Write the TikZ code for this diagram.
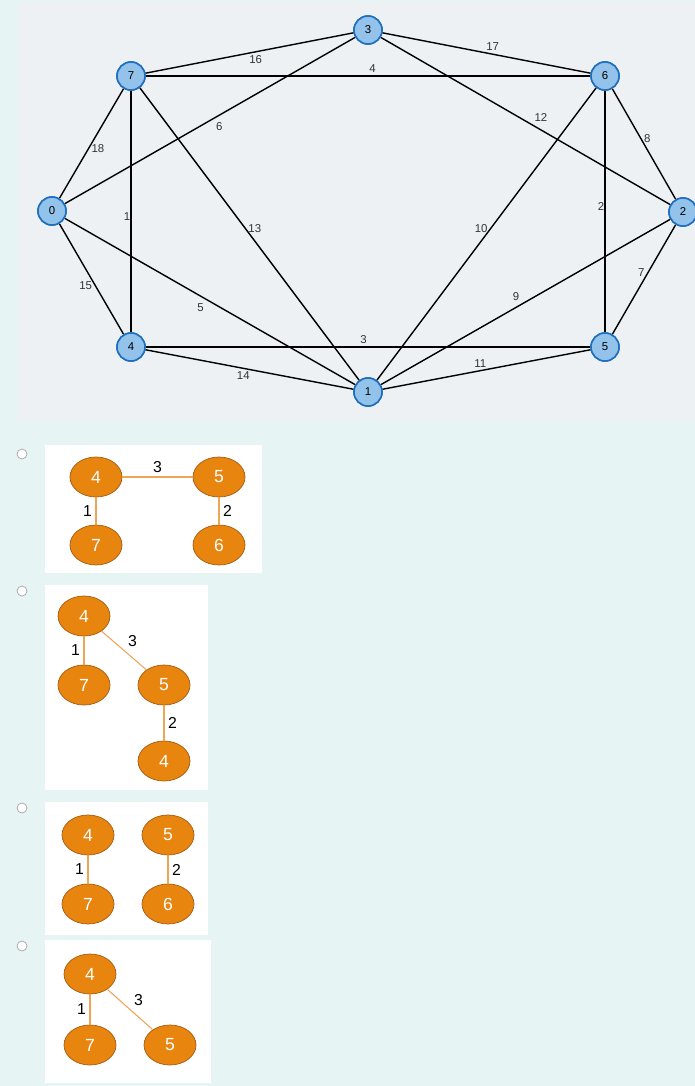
\documentclass[tikz,border=0pt]{standalone}
\usepackage{fontspec}
\setmainfont{Liberation Sans}
\usepackage[HTML]{xcolor}
\usetikzlibrary{positioning, shapes.geometric}
\definecolor{pagebg}{HTML}{E6F4F4}
\definecolor{panelbg}{HTML}{EDF1F4}
\definecolor{vfill}{HTML}{93C3EA}
\definecolor{vline}{HTML}{1E6FC0}
\definecolor{ofill}{HTML}{E8850F}
\definecolor{oline}{HTML}{A85A10}
\definecolor{oedge}{HTML}{F0A455}
\tikzset{
  vert/.style={circle, draw=vline, fill=vfill, line width=0.9pt, minimum size=0.56cm, inner sep=0pt, font=\fontsize{6.5}{7}\selectfont},
  gedge/.style={line width=0.8pt, black},
  lbl/.style={font=\fontsize{6.5}{7}\selectfont, inner sep=1.5pt, text=black!80},
  tree/.style={ellipse, draw=oline, fill=ofill, minimum width=1.04cm, minimum height=0.8cm, inner sep=0pt, text=white, font=\fontsize{10}{11}\selectfont},
  tedge/.style={draw=oedge, line width=0.6pt},
  tlbl/.style={font=\fontsize{9}{10}\selectfont, inner sep=2pt},
  radio/.style={circle, draw=gray!70, fill=white, minimum size=0.2cm, inner sep=0pt}
}
\begin{document}
\begin{tikzpicture}[x=0.02cm, y=-0.02cm]
\useasboundingbox (0,0) rectangle (695,1086);
\fill[pagebg] (0,0) rectangle (695,1086);
% graph panel
\fill[panelbg] (18,2) rectangle (695,420);
\node[vert] (n3) at (368,30) {3};
\node[vert] (n7) at (131,76) {7};
\node[vert] (n6) at (605,76) {6};
\node[vert] (n0) at (52,211) {0};
\node[vert] (n2) at (683,212) {2};
\node[vert] (n4) at (131,347) {4};
\node[vert] (n5) at (605,347) {5};
\node[vert] (n1) at (368,392) {1};
\begin{scope}[on background layer/.style={}]
\draw[gedge] (n7) -- node[lbl, pos=0.53, below] {16} (n3);
\draw[gedge] (n3) -- node[lbl, pos=0.53, above] {17} (n6);
\draw[gedge] (n7) -- node[lbl, pos=0.51, above] {4} (n6);
\draw[gedge] (n3) -- node[lbl, pos=0.52, above right] {12} (n2);
\draw[gedge] (n0) -- node[lbl, pos=0.51, below right] {6} (n3);
\draw[gedge] (n0) -- node[lbl, pos=0.45, right] {18} (n7);
\draw[gedge] (n6) -- node[lbl, pos=0.45, right] {8} (n2);
\draw[gedge] (n7) -- node[lbl, pos=0.52, left, inner sep=0pt] {1} (n4);
\draw[gedge] (n7) -- node[lbl, pos=0.48, right] {13} (n1);
\draw[gedge] (n6) -- node[lbl, pos=0.48, left] {10} (n1);
\draw[gedge] (n6) -- node[lbl, pos=0.48, left, inner sep=0pt] {2} (n5);
\draw[gedge] (n0) -- node[lbl, pos=0.56, left] {15} (n4);
\draw[gedge] (n2) -- node[lbl, pos=0.44, left] {7} (n5);
\draw[gedge] (n0) -- node[lbl, pos=0.49, below left] {5} (n1);
\draw[gedge] (n2) -- node[lbl, pos=0.51, above left] {9} (n1);
\draw[gedge] (n4) -- node[lbl, pos=0.49, above] {3} (n5);
\draw[gedge] (n4) -- node[lbl, pos=0.47, below] {14} (n1);
\draw[gedge] (n1) -- node[lbl, pos=0.47, above] {11} (n5);
\end{scope}
% redraw vertices over edges
\foreach \n/\p in {3/{368,30},7/{131,76},6/{605,76},0/{52,211},2/{683,212},4/{131,347},5/{605,347},1/{368,392}}
  \node[vert] at (\p) {\n};
% option A
\node[radio] (ra) at (22,454) {};
\fill[white] (45,445) rectangle (262,573);
\node[tree] (a4) at (96,477) {4};
\node[tree] (a5) at (219,477) {5};
\node[tree] (a7) at (96,545) {7};
\node[tree] (a6) at (219,545) {6};
\draw[tedge] (a4) -- node[tlbl, above] {3} (a5);
\draw[tedge] (a4) -- node[tlbl, left] {1} (a7);
\draw[tedge] (a5) -- node[tlbl, right] {2} (a6);
% option B
\node[radio] (rb) at (22,591) {};
\fill[white] (45,585) rectangle (208,790);
\node[tree] (b4) at (84,616) {4};
\node[tree] (b7) at (84,685) {7};
\node[tree] (b5) at (164,685) {5};
\node[tree] (b4x) at (164,761) {4};
\draw[tedge] (b4) -- node[tlbl, left] {1} (b7);
\draw[tedge] (b4) -- node[tlbl, above right] {3} (b5);
\draw[tedge] (b5) -- node[tlbl, right] {2} (b4x);
% option C
\node[radio] (rc) at (22,808) {};
\fill[white] (45,802) rectangle (208,935);
\node[tree] (c4) at (88,835) {4};
\node[tree] (c5) at (168,835) {5};
\node[tree] (c7) at (88,904) {7};
\node[tree] (c6) at (168,904) {6};
\draw[tedge] (c4) -- node[tlbl, left] {1} (c7);
\draw[tedge] (c5) -- node[tlbl, right] {2} (c6);
% option D
\node[radio] (rd) at (22,946) {};
\fill[white] (45,940) rectangle (211,1083);
\node[tree] (d4) at (90,974) {4};
\node[tree] (d7) at (90,1045) {7};
\node[tree] (d5) at (170,1045) {5};
\draw[tedge] (d4) -- node[tlbl, left] {1} (d7);
\draw[tedge] (d4) -- node[tlbl, above right] {3} (d5);
\end{tikzpicture}
\end{document}
